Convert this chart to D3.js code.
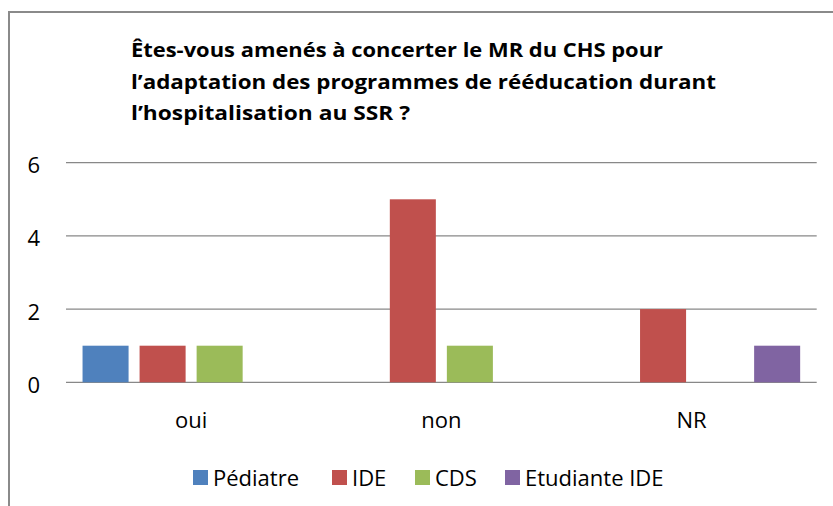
<!DOCTYPE html>
<html>
<head>
<meta charset="utf-8">
<script src="https://cdn.jsdelivr.net/npm/d3@7"></script>
<style>
    body { margin: 0; background: #fff; }
    text { font-family: "Open Sans", Lato, sans-serif; fill: #000; }
</style>
</head>
<body>
<div id="chart"></div>
<script>
// data
let categories = ["oui", "non", "NR"];
let seriesNames = ["Pédiatre", "IDE", "CDS", "Etudiante IDE"];
let seriesColors = ["#4F81BD", "#C0504D", "#9BBB59", "#8064A2"];
let pediatre = [1, 0, 0];
let ide = [1, 5, 2];
let cds = [1, 1, 0];
let etudiante = [0, 0, 1];
let yTicks = [0, 2, 4, 6];
let titleLines = [
    "Êtes-vous amenés à concerter le MR du CHS pour",
    "l’adaptation des programmes de rééducation durant",
    "l’hospitalisation au SSR ?"
];

let seriesValues = [pediatre, ide, cds, etudiante];

let W = 833, H = 506;
let plot = { left: 66, right: 816.7, top: 162.7, bottom: 382.3 };

let svg = d3.select("#chart").append("svg")
    .attr("width", W)
    .attr("height", H);

// outer frame (right and bottom edges fall outside the picture)
svg.append("rect")
    .attr("x", 9).attr("y", 12)
    .attr("width", 840).attr("height", 520)
    .attr("fill", "none")
    .attr("stroke", "#8a8a8a")
    .attr("stroke-width", 2);

// title
let titleWidths = [532, 585, 279];
svg.append("g")
    .selectAll("text")
    .data(titleLines)
    .enter().append("text")
    .attr("x", 131)
    .attr("y", (d, i) => 57 + i * 31.5)
    .attr("font-size", 19.5)
    .attr("font-weight", "bold")
    .attr("textLength", (d, i) => titleWidths[i])
    .attr("lengthAdjust", "spacingAndGlyphs")
    .text(d => d);

let x = d3.scaleBand()
    .domain(categories)
    .range([plot.left, plot.right]);

let x1 = d3.scaleBand()
    .domain(seriesNames)
    .range([0, x.bandwidth()])
    .paddingInner(0.193)
    .paddingOuter(0.29);

let y = d3.scaleLinear()
    .domain([0, 6])
    .range([plot.bottom, plot.top]);

// gridlines
svg.append("g")
    .selectAll("line")
    .data(yTicks)
    .enter().append("line")
    .attr("x1", plot.left).attr("x2", plot.right)
    .attr("y1", d => y(d)).attr("y2", d => y(d))
    .attr("stroke", "#888")
    .attr("stroke-width", 1.3);

// y tick labels
svg.append("g")
    .selectAll("text")
    .data(yTicks)
    .enter().append("text")
    .attr("x", 40)
    .attr("y", d => y(d) + 1.5)
    .attr("text-anchor", "end")
    .attr("dominant-baseline", "central")
    .attr("font-size", 22)
    .text(d => d);

// bars
let groups = svg.append("g")
    .selectAll("g")
    .data(categories)
    .enter().append("g")
    .attr("transform", d => `translate(${x(d)},0)`);

groups.selectAll("rect")
    .data((c, ci) => seriesNames.map((s, si) => ({ s: s, si: si, v: seriesValues[si][ci] })))
    .enter().append("rect")
    .filter(d => d.v > 0)
    .attr("x", d => x1(d.s))
    .attr("width", x1.bandwidth())
    .attr("y", d => y(d.v))
    .attr("height", d => y(0) - y(d.v))
    .attr("fill", d => seriesColors[d.si]);

// category labels
svg.append("g")
    .selectAll("text")
    .data(categories)
    .enter().append("text")
    .attr("x", d => x(d) + x.bandwidth() / 2)
    .attr("y", 427.5)
    .attr("text-anchor", "middle")
    .attr("font-size", 22)
    .text(d => d);

// legend
let legendX = [193, 332, 415, 505];
let legend = svg.append("g")
    .selectAll("g")
    .data(seriesNames)
    .enter().append("g")
    .attr("transform", (d, i) => `translate(${legendX[i]},470)`);

legend.append("rect")
    .attr("width", 15).attr("height", 15)
    .attr("fill", (d, i) => seriesColors[i]);

legend.append("text")
    .attr("x", 20)
    .attr("y", 15.5)
    .attr("font-size", 22)
    .text(d => d);
</script>
</body>
</html>
